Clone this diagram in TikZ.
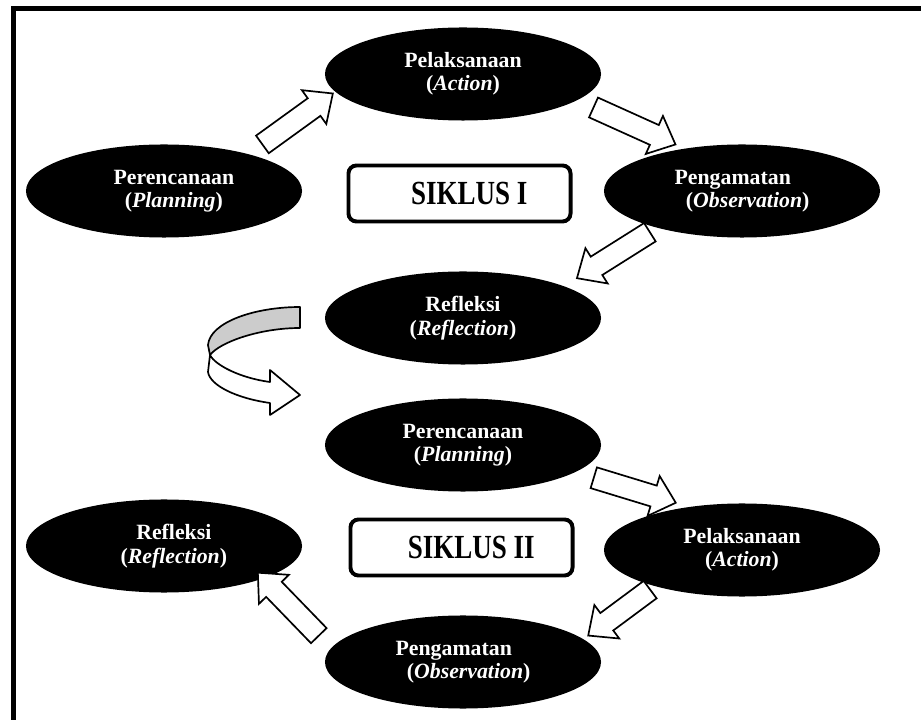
\documentclass[tikz,border=0pt]{standalone}
\usepackage{fontspec}
\setmainfont{Liberation Serif}
\usetikzlibrary{positioning, calc, shapes.geometric, shapes.arrows}

\newcommand{\blockarrow}[2]{%
  \path let \p1=($(#2)-(#1)$), \n1={atan2(\y1,\x1)}, \n2={veclen(\x1,\y1)} in
    node[blockarr, rotate=\n1, minimum height=\n2] at ($(#1)!0.5!(#2)$) {};%
}
\newcommand{\ind}{\hspace*{14pt}}

\begin{document}
\begin{tikzpicture}[
    x=0.025cm, y=0.025cm,
    stage/.style={ellipse, fill=black, text=white, inner sep=0pt, align=center,
        minimum width=6.9cm, minimum height=2.325cm,
        font=\fontsize{15.5}{16.6}\selectfont\bfseries},
    siklus/.style={rectangle, draw, line width=2.8pt, rounded corners=0.2cm,
        minimum width=5.55cm, minimum height=1.4cm, inner sep=0pt,
        font=\fontsize{24}{26}\selectfont\bfseries},
    blockarr/.style={single arrow, draw, fill=white, line width=1.2pt,
        inner xsep=0pt, inner ysep=0.25cm, single arrow head extend=0.25cm,
        single arrow tip angle=84, single arrow head indent=0pt},
    ribbon/.style={draw, line width=1.2pt, line join=round},
]
\useasboundingbox (0,0) rectangle (921,-720);

% Frame
\draw[line width=0.125cm] (13.5,-720) -- (13.5,-8.5) -- (921,-8.5);

% Siklus I
\node[stage] (plan1) at (164,-191) {\ind Perencanaan\\\ind(\textit{Planning})};
\node[stage] (act1) at (463,-74) {Pelaksanaan\\(\textit{Action})};
\node[stage, align=left] (obs1) at (742,-191) {Pengamatan\\\hspace*{8pt}(\textit{Observation})};
\node[stage] (refl1) at (463,-318) {Refleksi\\(\textit{Reflection})};
\node[siklus] (sik1) at (459.5,-193.5) {\hspace*{14pt}\scalebox{0.8}[1]{SIKLUS I}};

% Siklus II
\node[stage] (plan2) at (463,-445) {Perencanaan\\(\textit{Planning})};
\node[stage] (act2) at (742,-550) {Pelaksanaan\\(\textit{Action})};
\node[stage, align=left] (obs2) at (463,-662) {Pengamatan\\\hspace*{8pt}(\textit{Observation})};
\node[stage] (refl2) at (164,-546) {\ind Refleksi\\\ind(\textit{Reflection})};
\node[siklus] (sik2) at (461.5,-547.5) {\hspace*{14pt}\scalebox{0.8}[1]{SIKLUS II}};

% Arrow ends
\coordinate (a1s) at ($(plan1)+(93.5,43)$);
\coordinate (a1e) at ($(act1)+(-135,-23)$);
\coordinate (a2s) at ($(act1)+(125,-31)$);
\coordinate (a2e) at ($(obs1)+(-72,49)$);
\coordinate (a3s) at ($(obs1)+(-87,-38)$);
\coordinate (a3e) at ($(refl1)+(119,43)$);
\coordinate (a5s) at ($(plan2)+(125,-31)$);
\coordinate (a5e) at ($(act2)+(-72,49)$);
\coordinate (a6s) at ($(act2)+(-87,-36)$);
\coordinate (a6e) at ($(obs2)+(130,30)$);
\coordinate (a7s) at ($(obs2)+(-140,22)$);
\coordinate (a7e) at ($(refl2)+(98,-31)$);

% Block arrows
\blockarrow{a1s}{a1e}
\blockarrow{a2s}{a2e}
\blockarrow{a3s}{a3e}
\blockarrow{a5s}{a5e}
\blockarrow{a6s}{a6e}
\blockarrow{a7s}{a7e}

% Turn from Siklus I to Siklus II
\draw[ribbon, fill=black!20] (300,-307) .. controls (255,-307) and (210,-322) .. (208,-345)
    -- (210,-355) .. controls (220,-342) and (260,-328) .. (300,-328) -- cycle;
\draw[ribbon, fill=white] (210,-355) .. controls (215,-365) and (240,-378) .. (270,-382)
    -- (270,-370) -- (300,-395) -- (270,-415) -- (270,-403)
    .. controls (235,-398) and (210,-385) .. (208,-372) -- cycle;

\end{tikzpicture}
\end{document}
